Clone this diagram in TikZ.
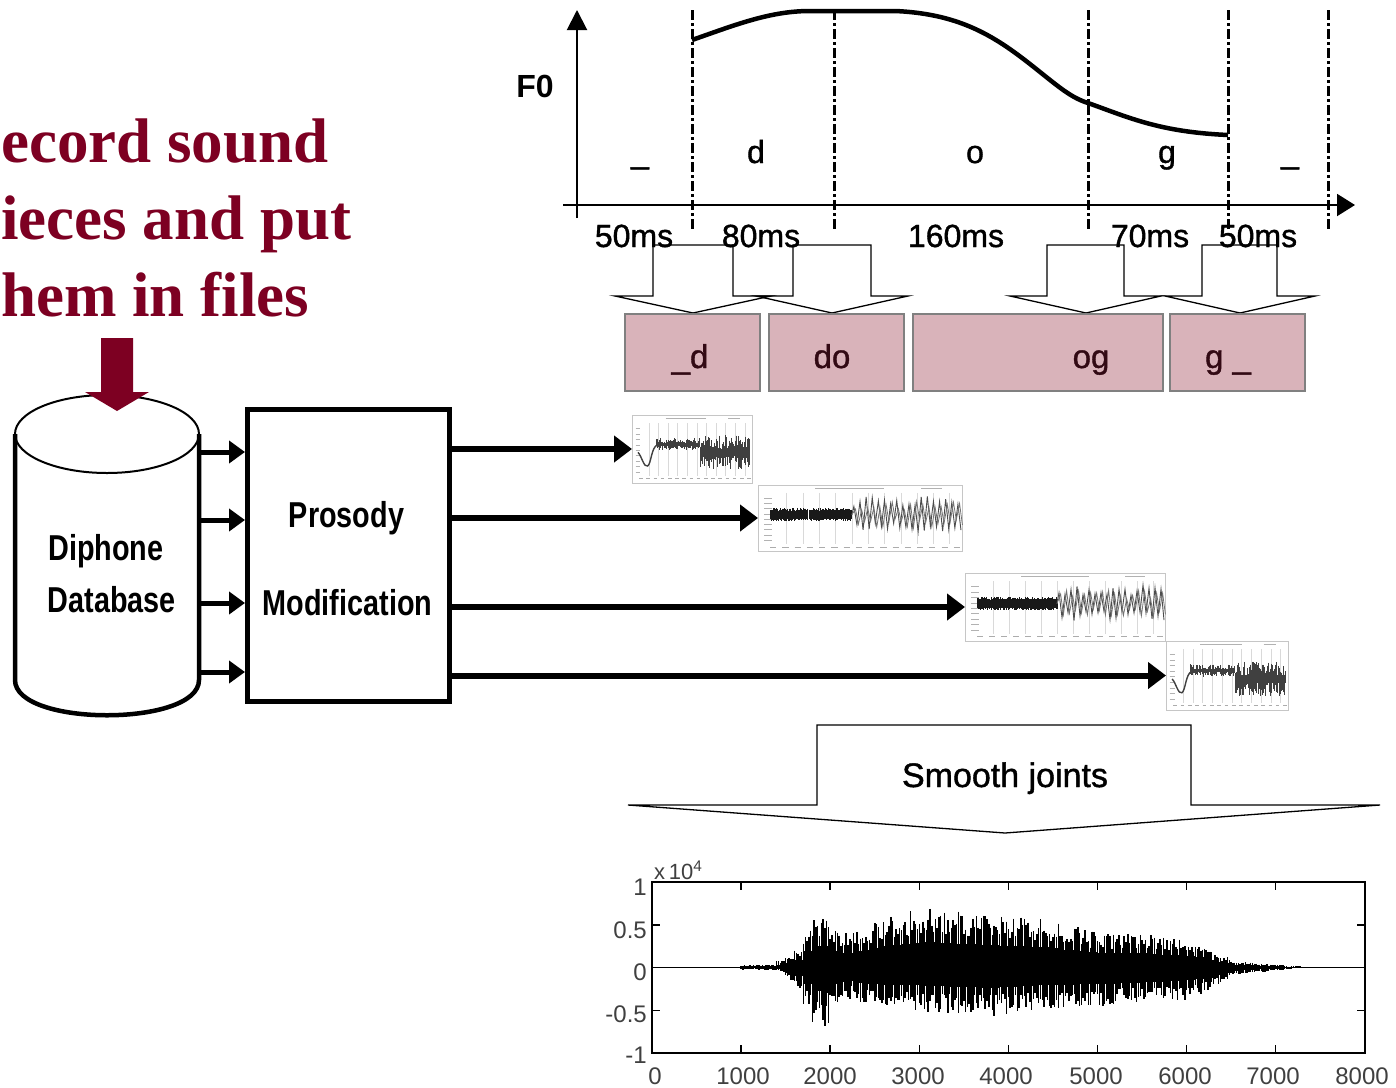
\documentclass[tikz,border=0pt]{standalone}
\usepackage{fontspec}
\setmainfont{Liberation Sans}
\newfontfamily\redfont{Liberation Serif}
\newfontfamily\boxfont[FakeStretch=0.8]{Liberation Sans}
\newfontfamily\semifont[FakeBold=1.2]{Liberation Sans}
\usetikzlibrary{arrows.meta}
\definecolor{redtext}{RGB}{125,0,34}
\definecolor{pinkfill}{RGB}{217,179,186}
\definecolor{pinklbl}{RGB}{50,10,20}

\newcommand\mythumbgrid{%
  \foreach \g in {14,22,...,94} \draw[gray!30,line width=0.6pt] (\g,12) -- (\g,90);
  \draw[gray!60,line width=1.2pt] (28,5) -- (62,5);
  \draw[gray!60,line width=1.2pt] (80,5) -- (90,5);
  \foreach \g in {6,12,...,96} \draw[gray!65,line width=1pt] (\g,94) -- (\g+3,94);
  \foreach \g in {20,28,...,84} \draw[gray!60,line width=0.8pt] (3,\g) -- (7,\g);
}
\newcommand\mythumbA[4]{%
  \begin{scope}[shift={(#1,#2)},xscale=#3,yscale=#4]
    \mythumbgrid
    \draw[black!75,line width=1.4pt] (5,55) .. controls (8,60) and (10,78) .. (13,75) .. controls (16,72) and (16,48) .. (21,44);
    \foreach \i in {0,...,100}{%
      \pgfmathsetmacro\xx{20+\i*0.78}%
      \pgfmathsetmacro\cc{\xx<56?43:55}%
      \pgfmathsetmacro\aa{\xx<56?9:25}%
      \draw[black!75,line width=0.8pt] (\xx,{\cc-\aa*(0.2+0.8*rnd)}) -- (\xx,{\cc+\aa*(0.2+0.8*rnd)});
    }
  \end{scope}}
\newcommand\mythumbB[4]{%
  \begin{scope}[shift={(#1,#2)},xscale=#3,yscale=#4]
    \mythumbgrid
    \foreach \i in {0,...,80}{%
      \pgfmathsetmacro\xx{6+\i*0.5}%
      \draw[black!90,line width=1pt] (\xx,{39-4*rnd}) -- (\xx,{51+4*rnd});
    }
    \draw[black!70,line width=0.9pt] (46,45) foreach \i in {0,...,17}{ -- ({47+\i*3},{45-(12+16*rnd)}) -- ({48.5+\i*3},{45+(10+16*rnd)}) };
    \draw[black!55,line width=0.8pt] (46,45) foreach \i in {0,...,17}{ -- ({47.8+\i*3},{45-(6+14*rnd)}) -- ({49.2+\i*3},{45+(6+14*rnd)}) };
  \end{scope}}

\begin{document}
\begin{tikzpicture}[x=1pt,y=-1pt,
  redtxt/.style={font=\redfont\bfseries\fontsize{63}{76}\selectfont, text=redtext, inner sep=0pt},
  boxtxt/.style={font=\boxfont\bfseries\fontsize{36}{40}\selectfont, inner sep=0pt, anchor=base},
  thickarrow/.style={line width=5pt,-{Triangle[width=22pt,length=16pt]}},
  outarrow/.style={line width=6pt,-{Triangle[width=26pt,length=18pt]}},
  blockarrow/.style={line width=1.3pt},
  pinkbox/.style={draw=gray, line width=1.5pt, fill=pinkfill, minimum height=77pt, inner sep=0pt},
  boxlbl/.style={font=\semifont\fontsize{33}{36}\selectfont, text=pinklbl, inner sep=0pt, anchor=base},
  plbl/.style={font=\semifont\fontsize{32}{36}\selectfont, inner sep=0pt, anchor=base},
  segline/.style={line width=3pt, dash pattern=on 10pt off 3pt on 3pt off 3pt},
  thumb/.style={draw=gray!45, line width=0.8pt, inner sep=0pt, outer sep=0pt},
  ticklbl/.style={font=\fontsize{24}{26}\selectfont, text=black!75, inner sep=0pt}]
\useasboundingbox (0,0) rectangle (1396,1087);
\clip (0,0) rectangle (1396,1087);
\fill[white] (0,0) rectangle (1396,1087);
\pgfmathsetseed{12345}

% ---------- red caption ----------
\node[redtxt, anchor=base west] (r1) at (1,162) {ecord sound};
\node[redtxt, anchor=base west] (r2) at (1,239) {ieces and put};
\node[redtxt, anchor=base west] (r3) at (1,316) {hem in files};

% ---------- database cylinder ----------
\draw[line width=2pt] (107,434) ellipse [x radius=92, y radius=39];
\draw[line width=4.5pt] (15,434) -- (15,680) .. controls (15,727) and (199,727) .. (199,680) -- (199,434);
\fill[redtext] (101,338) -- (133,338) -- (133,392) -- (149,392) -- (117,411) -- (85,392) -- (101,392) -- cycle;
\node[boxtxt] (db1) at (106,560) {Diphone};
\node[boxtxt] (db2) at (112,612) {Database};

% ---------- prosody box ----------
\node[draw, line width=5pt, minimum width=202pt, minimum height=292pt, inner sep=0pt] (pm) at (348.5,555.5) {};
\node[boxtxt] (pt1) at (346.5,527) {Prosody};
\node[boxtxt] (pt2) at (347.5,615) {Modification};

\coordinate (c1) at (199,452);
\coordinate (c2) at (199,520);
\coordinate (c3) at (199,603);
\coordinate (c4) at (199,672);
\foreach \c in {c1,c2,c3,c4} \draw[thickarrow] (\c) -- (\c -| pm.west);

% ---------- thumbnails ----------
\node[thumb, minimum width=120pt, minimum height=68pt] (w1) at (692,449) {};
\node[thumb, minimum width=204pt, minimum height=66pt] (w2) at (860,518) {};
\node[thumb, minimum width=200pt, minimum height=68pt] (w3) at (1065,607) {};
\node[thumb, minimum width=122pt, minimum height=69pt] (w4) at (1227,675.5) {};
\mythumbA{632}{415}{1.2}{0.68}
\mythumbB{758}{485}{2.04}{0.66}
\mythumbB{965}{573}{2.0}{0.68}
\mythumbA{1166}{641}{1.22}{0.69}

\foreach \w in {w1,w2,w3,w4} \draw[outarrow] (pm.east |- \w.west) -- (\w.west);

% ---------- F0 plot ----------
\draw[line width=2pt, -{Triangle[width=22pt,length=18pt]}] (563,205) -- (1355,205);
\draw[line width=2pt, -{Triangle[width=20pt,length=20pt]}] (577,218) -- (577,10);
\foreach \xx in {692,834,1088,1228,1328} \draw[segline] (\xx,10) -- (\xx,232);
\draw[line width=4.5pt] (692,40) .. controls (735,25) and (770,11) .. (810,11) -- (895,11)
  .. controls (965,14) and (1000,40) .. (1040,72) .. controls (1060,88) and (1072,98) .. (1088,103)
  .. controls (1130,118) and (1160,132) .. (1228,135);
\node[plbl, font=\bfseries\fontsize{32}{36}\selectfont] (f0) at (535,97) {F0};
\node[plbl] (s1) at (640,163) {\_};
\node[plbl] (s2) at (756,163) {d};
\node[plbl] (s3) at (975,163) {o};
\node[plbl] (s4) at (1167,163) {g};
\node[plbl] (s5) at (1290,163) {\_};

% ---------- block arrows ----------
\draw[blockarrow] (615,296) -- (653,296) -- (653,245) -- (733,245) -- (733,296) -- (771,296) -- (693,313) -- cycle;
\draw[blockarrow] (756,296) -- (793,296) -- (793,245) -- (871,245) -- (871,296) -- (908,296) -- (832,313) -- cycle;
\draw[blockarrow] (1010,296) -- (1047,296) -- (1047,245) -- (1124,245) -- (1124,296) -- (1161,296) -- (1086,313) -- cycle;
\draw[blockarrow] (1165,296) -- (1202,296) -- (1202,245) -- (1277,245) -- (1277,296) -- (1315,296) -- (1240,313) -- cycle;

\node[plbl] (m1) at (634,247) {50ms};
\node[plbl] (m2) at (761,247) {80ms};
\node[plbl] (m3) at (956,247) {160ms};
\node[plbl] (m4) at (1150,247) {70ms};
\node[plbl] (m5) at (1258,247) {50ms};

% ---------- diphone boxes ----------
\node[pinkbox, minimum width=135pt] (b1) at (692.5,352.5) {};
\node[pinkbox, minimum width=135pt] (b2) at (836.5,352.5) {};
\node[pinkbox, minimum width=250pt] (b3) at (1038,352.5) {};
\node[pinkbox, minimum width=135pt] (b4) at (1237.5,352.5) {};
\node[boxlbl] (t1) at (690,368) {\_d};
\node[boxlbl] (t2) at (832,368) {do};
\node[boxlbl] (t3) at (1091,368) {og};
\node[boxlbl] (t4) at (1228,368) {g \_};

% ---------- smooth joints ----------
\draw[blockarrow] (628,805) -- (817,805) -- (817,725) -- (1191,725) -- (1191,805) -- (1380,805) -- (1005,833) -- cycle;
\node[font=\semifont\fontsize{34}{38}\selectfont, inner sep=0pt, anchor=base] (sj) at (1005,787) {Smooth joints};

% ---------- final waveform plot ----------
\draw[line width=1.5pt] (652,967.5) -- (1365,967.5);
\foreach \x/\u/\l in {1000/0.03/0.03,1100/0.03/0.02,1200/0.03/0.03,1300/0.03/0.03,1400/0.08/0.05,1500/0.12/0.15,
  1600/0.22/0.25,1700/0.45/0.45,1800/0.6/0.65,1900/0.6/0.7,2000/0.45/0.45,2100/0.4/0.4,2200/0.4/0.38,
  2300/0.45/0.42,2400/0.5/0.45,2500/0.55/0.45,2600/0.6/0.5,2700/0.62/0.5,2800/0.65/0.5,2900/0.68/0.5,
  3000/0.7/0.52,3100/0.7/0.52,3200/0.68/0.52,3300/0.68/0.55,3400/0.66/0.55,3500/0.65/0.55,3600/0.65/0.55,
  3700/0.63/0.57,3800/0.62/0.57,3900/0.6/0.55,4000/0.6/0.55,4100/0.6/0.52,4200/0.58/0.52,4300/0.57/0.5,
  4400/0.56/0.5,4500/0.55/0.5,4600/0.5/0.48,4700/0.5/0.48,4800/0.45/0.45,4900/0.42/0.45,5000/0.4/0.45,
  5100/0.4/0.45,5200/0.4/0.43,5300/0.4/0.43,5400/0.4/0.42,5500/0.4/0.4,5600/0.38/0.4,5700/0.36/0.4,
  5800/0.35/0.38,5900/0.35/0.38,6000/0.32/0.36,6100/0.28/0.32,6200/0.22/0.28,6300/0.15/0.2,6400/0.12/0.15,
  6500/0.08/0.1,6600/0.07/0.08,6700/0.06/0.06,6800/0.05/0.05,6900/0.04/0.04,7000/0.03/0.03,7100/0.02/0.02,7200/0.02/0.01}{%
  \foreach \k in {0,...,4}{%
    \pgfmathsetmacro\px{652+(\x+20*\k)*0.0891}%
    \pgfmathsetmacro\ptop{967.5-85.5*\u*(0.55+0.45*rnd)}%
    \pgfmathsetmacro\pbot{967.5+85.5*\l*(0.55+0.45*rnd)}%
    \draw[line width=1.5pt] (\px,\ptop) -- (\px,\pbot);
  }
  \pgfmathsetmacro\pa{652+\x*0.0891}%
  \pgfmathsetmacro\pb{652+(\x+100)*0.0891}%
  \fill (\pa,{967.5-85.5*\u*0.42}) rectangle (\pb,{967.5+85.5*\l*0.42});
}
\draw[line width=1.8pt] (652,882) rectangle (1365,1053);
\foreach \yy in {924.75,967.5,1010.25}{
  \draw[line width=1.5pt] (652,\yy) -- (660,\yy);
  \draw[line width=1.5pt] (1365,\yy) -- (1357,\yy);
}
\foreach \xx in {741.1,830.2,919.3,1008.4,1097.5,1186.6,1275.7}{
  \draw[line width=1.5pt] (\xx,1053) -- (\xx,1045);
  \draw[line width=1.5pt] (\xx,882) -- (\xx,890);
}
\node[ticklbl, anchor=east] (y1) at (647,887) {1};
\node[ticklbl, anchor=east] (y2) at (647,930) {0.5};
\node[ticklbl, anchor=east] (y3) at (647,972) {0};
\node[ticklbl, anchor=east] (y4) at (647,1014) {-0.5};
\node[ticklbl, anchor=east] (y5) at (647,1055) {-1};
\node[ticklbl] (x0) at (655,1076) {0};
\node[ticklbl] (x1) at (743,1076) {1000};
\node[ticklbl] (x2) at (830,1076) {2000};
\node[ticklbl] (x3) at (918,1076) {3000};
\node[ticklbl] (x4) at (1006,1076) {4000};
\node[ticklbl] (x5) at (1096,1076) {5000};
\node[ticklbl] (x6) at (1185,1076) {6000};
\node[ticklbl] (x7) at (1273,1076) {7000};
\node[ticklbl] (x8) at (1362,1076) {8000};
\node[ticklbl, font=\fontsize{22}{24}\selectfont, anchor=base west] (ex) at (654,879) {x\,10\textsuperscript{4}};
\end{tikzpicture}
\end{document}
